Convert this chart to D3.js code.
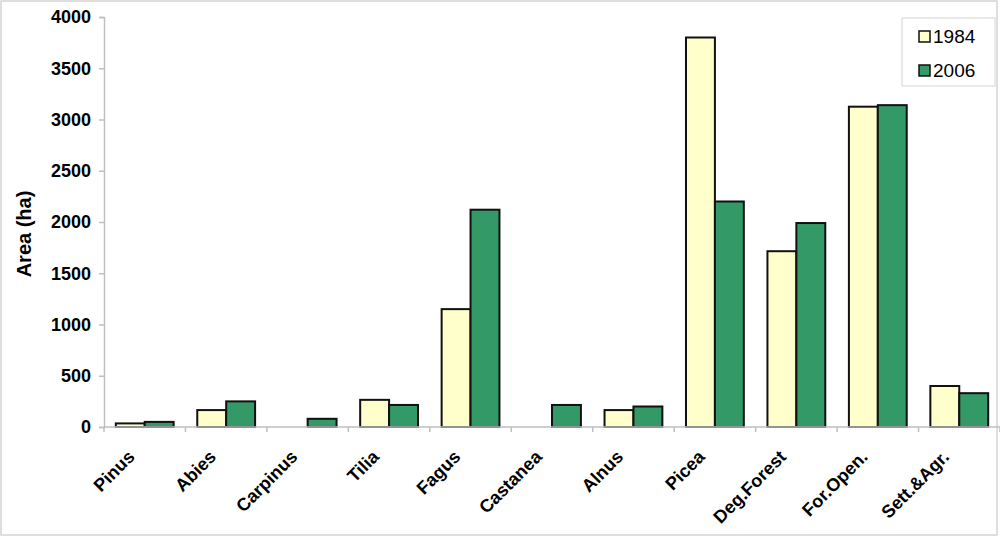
<!DOCTYPE html>
<html>
<head>
<meta charset="utf-8">
<script src="https://cdn.jsdelivr.net/npm/d3@7"></script>
<style>
  body { margin: 0; background: #fff; }
  svg { display: block; font-family: Arial, 'Liberation Sans', sans-serif; }
</style>
</head>
<body>
<div id="chart"></div>
<script>
// Data
const categories = ['Pinus', 'Abies', 'Carpinus', 'Tilia', 'Fagus', 'Castanea',
  'Alnus', 'Picea', 'Deg.Forest', 'For.Open.', 'Sett.&Agr.']
const seriesNames = ['1984', '2006']
const values1984 = [35, 165, 0, 265, 1150, 0, 165, 3800, 1715, 3125, 400]
const values2006 = [50, 250, 80, 215, 2120, 215, 200, 2200, 1990, 3140, 330]
const yTicks = [0, 500, 1000, 1500, 2000, 2500, 3000, 3500, 4000]

const colors = { '1984': '#ffffcc', '2006': '#339966' }

const width = 1000
const height = 537
const plot = { left: 104, right: 1000, top: 17, bottom: 427 }

const svg = d3
  .select('#chart')
  .append('svg')
  .attr('width', width)
  .attr('height', height)

// outer frame
svg
  .append('rect')
  .attr('x', 1)
  .attr('y', 1)
  .attr('width', 996)
  .attr('height', 534)
  .attr('fill', 'none')
  .attr('stroke', '#d4d4d4')
  .attr('stroke-width', 1.5)

// scales
const x0 = d3
  .scaleBand()
  .domain(categories)
  .range([plot.left, plot.right])
  .paddingInner(0.29)
  .paddingOuter(0.145)

const x1 = d3
  .scaleBand()
  .domain(seriesNames)
  .range([0, x0.bandwidth()])

const y = d3.scaleLinear().domain([0, 4000]).range([plot.bottom, plot.top])

// rows for grouped bars
const rows = categories.map((c, i) => ({
  cat: c,
  vals: [
    { key: '1984', value: values1984[i] },
    { key: '2006', value: values2006[i] }
  ]
}))

// y axis
const yAxis = d3
  .axisLeft(y)
  .tickValues(yTicks)
  .tickSize(5)
  .tickPadding(8)
  .tickFormat(d3.format('d'))

const yG = svg
  .append('g')
  .attr('transform', 'translate(' + plot.left + ',0)')
  .call(yAxis)
yG.select('.domain').attr('stroke', '#bfbfbf').attr('stroke-width', 1.5)
yG.selectAll('.tick line').attr('stroke', '#bfbfbf').attr('stroke-width', 1.5)
yG.selectAll('.tick text')
  .attr('font-size', 18)
  .attr('font-weight', 'bold')
  .attr('fill', '#000')
  .attr('font-family', 'Arial, Liberation Sans, sans-serif')

// bars
const groups = svg
  .selectAll('.group')
  .data(rows)
  .enter()
  .append('g')
  .attr('class', 'group')
  .attr('transform', d => 'translate(' + x0(d.cat) + ',0)')

groups
  .selectAll('rect')
  .data(d => d.vals.filter(v => v.value > 0))
  .enter()
  .append('rect')
  .attr('x', d => x1(d.key))
  .attr('y', d => y(d.value))
  .attr('width', x1.bandwidth())
  .attr('height', d => y(0) - y(d.value))
  .attr('fill', d => colors[d.key])
  .attr('stroke', '#111')
  .attr('stroke-width', 2)

// x axis line and category boundary ticks
const step = x0.step()
const boundaries = d3.range(categories.length + 1).map(i => plot.left + i * step)

svg
  .append('line')
  .attr('x1', plot.left)
  .attr('x2', plot.right)
  .attr('y1', plot.bottom)
  .attr('y2', plot.bottom)
  .attr('stroke', '#bfbfbf')
  .attr('stroke-width', 1.5)

svg
  .selectAll('.xtick')
  .data(boundaries)
  .enter()
  .append('line')
  .attr('class', 'xtick')
  .attr('x1', d => d)
  .attr('x2', d => d)
  .attr('y1', plot.bottom)
  .attr('y2', plot.bottom + 5)
  .attr('stroke', '#bfbfbf')
  .attr('stroke-width', 1.5)

// rotated category labels
svg
  .selectAll('.xlabel')
  .data(categories)
  .enter()
  .append('text')
  .attr('class', 'xlabel')
  .attr('text-anchor', 'end')
  .attr('font-size', 18)
  .attr('font-weight', 'bold')
  .attr('transform', d =>
    'translate(' + (x0(d) + x0.bandwidth() / 2 - 9) + ',' + 458 + ') rotate(-45)')
  .text(d => d)

// y axis title
svg
  .append('text')
  .attr('text-anchor', 'middle')
  .attr('font-size', 20)
  .attr('font-weight', 'bold')
  .attr('transform', 'translate(31,234) rotate(-90)')
  .text('Area (ha)')

// legend
const legend = svg.append('g').attr('transform', 'translate(902,18)')
legend
  .append('rect')
  .attr('width', 93)
  .attr('height', 68)
  .attr('fill', '#fff')
  .attr('stroke', '#d4d4d4')
  .attr('stroke-width', 1)

seriesNames.forEach((s, i) => {
  legend
    .append('rect')
    .attr('x', 17)
    .attr('y', 13 + i * 34)
    .attr('width', 11)
    .attr('height', 11)
    .attr('fill', colors[s])
    .attr('stroke', '#111')
    .attr('stroke-width', 1.5)
  legend
    .append('text')
    .attr('x', 31)
    .attr('y', 25 + i * 34)
    .attr('font-size', 19)
    .text(s)
})
</script>
</body>
</html>
